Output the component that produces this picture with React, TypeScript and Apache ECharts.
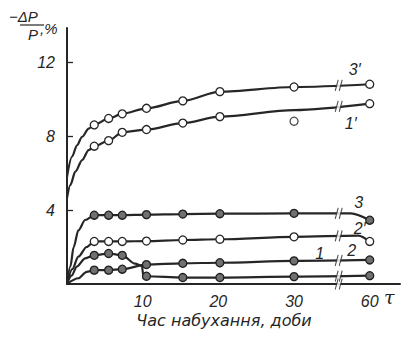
import React, { useEffect, useRef } from 'react';
import * as echarts from 'echarts';

// ---- data ----
const DAYS = [3.6, 5.5, 7.3, 10.5, 15.3, 20.2, 30, 60];
const X_TICKS = [10, 20, 30, 60];
const Y_TICKS = [4, 8, 12];
const BREAK_DAY = 35.9; // where the axis is broken
const POS_OF_60 = 40; // axis position used for day 60 after the break

const v3p = [8.6, 8.95, 9.2, 9.5, 9.9, 10.4, 10.65, 10.8];
const v1p = [7.45, 7.75, 8.2, 8.35, 8.7, 9.05, null, 9.75];
const v3 = [3.72, 3.72, 3.72, 3.75, 3.78, 3.8, 3.82, 3.45];
const v2p = [2.3, 2.3, 2.3, 2.32, 2.38, 2.42, 2.55, 2.3];
const v2 = [0.75, 0.75, 0.8, 1.05, 1.12, 1.15, 1.25, 1.3];
const v1 = [1.55, 1.65, 1.55, 0.42, 0.35, 0.35, 0.4, 0.45];

// unmarked points of the drawn curves [day, value]
const path3p = [[0, 5.8], [0.66, 6.88], [1.32, 7.5], [2.0, 7.96], [2.86, 8.4]];
const path1p = [[0, 4.65], [0.44, 5.35], [1.1, 6.07], [2.0, 6.7], [2.86, 7.24], [30, 9.4]];
const path3 = [[0, 0], [0.44, 0.94], [0.88, 2.0], [1.5, 2.9], [2.4, 3.46], [37.5, 3.82]];
const path2p = [[0, 0], [0.7, 0.8], [1.5, 1.48], [2.6, 2.0], [38.5, 2.62]];
const path2 = [[0, 0], [1.5, 0.31], [2.6, 0.66]];
const path1 = [[0, 0], [0.6, 0.45], [1.3, 0.94], [2.4, 1.39], [9.0, 1.1], [9.9, 0.98], [10.1, 0.4]];
const outlier1p = [[30, 8.8]];

const pos = (d: number) => (d === 60 ? POS_OF_60 : d);

const INK = '#262626';
const OPEN = { color: '#ffffff', borderColor: INK, borderWidth: 1.3 };
const FILLED = { color: '#707070', borderColor: '#1e1e1e', borderWidth: 1.3 };
const NUM_FONT = 'Liberation Sans';

function buildLine(vals: (number | null)[], extra: number[][], label: string, offset: number[]) {
  const pts: any[] = [];
  DAYS.forEach((d, i) => {
    if (vals[i] != null) pts.push({ value: [pos(d), vals[i]] });
  });
  extra.forEach(([d, v]) => pts.push({ value: [pos(d), v], symbol: 'none' }));
  pts.sort((a, b) => a.value[0] - b.value[0]);
  const last = pts[pts.length - 1];
  last.label = {
    show: true,
    formatter: label,
    position: 'inside',
    offset,
    fontFamily: NUM_FONT,
    fontStyle: 'italic',
    fontSize: 16,
    color: INK,
  };
  return pts;
}

function interp(pts: any[], x: number) {
  for (let i = 0; i < pts.length - 1; i++) {
    const [x0, y0] = pts[i].value;
    const [x1, y1] = pts[i + 1].value;
    if (x >= x0 && x <= x1) return y0 + ((y1 - y0) * (x - x0)) / (x1 - x0);
  }
  return 0;
}

export default function App() {
  const ref = useRef<HTMLDivElement>(null);
  useEffect(() => {
    if (!ref.current) return;
    const chart = echarts.init(ref.current, null, { renderer: 'svg' });

    const curves = [
      { name: "3'", data: buildLine(v3p, path3p, '3′', [-15, -15]), style: OPEN },
      { name: "1'", data: buildLine(v1p, path1p, '1′', [-19, 20]), style: OPEN },
      { name: '3', data: buildLine(v3, path3, '3', [-11, -18]), style: FILLED },
      { name: "2'", data: buildLine(v2p, path2p, '2′', [-10, -13]), style: OPEN },
      { name: '2', data: buildLine(v2, path2, '2', [-18, -9]), style: FILLED },
      { name: '1', data: buildLine(v1, path1, '1', [-50, -22]), style: FILLED },
    ];

    const breakPts = [[BREAK_DAY, 0], ...curves.map((c) => [BREAK_DAY, interp(c.data, BREAK_DAY)])];

    const series: any[] = curves.map((c) => ({
      type: 'line',
      name: c.name,
      data: c.data,
      smooth: 0.3,
      smoothMonotone: 'x',
      symbol: 'circle',
      symbolSize: 8,
      showAllSymbol: true,
      lineStyle: { color: INK, width: 2.2 },
      itemStyle: c.style,
      z: 3,
    }));
    series.push({
      type: 'scatter',
      data: outlier1p,
      symbol: 'circle',
      symbolSize: 8,
      itemStyle: OPEN,
      z: 4,
    });
    series.push({
      type: 'scatter',
      data: breakPts,
      symbol: 'path://M0,10 L3,0 L7,0 L4,10 Z',
      symbolSize: [7, 11],
      itemStyle: { color: '#ffffff', borderWidth: 0 },
      silent: true,
      z: 5,
    });
    series.push({
      type: 'scatter',
      data: breakPts,
      symbol: 'path://M0,10 L3,0 M4,10 L7,0',
      symbolSize: [7, 11],
      itemStyle: { color: 'none', borderColor: INK, borderWidth: 1.3 },
      silent: true,
      z: 6,
    });

    chart.setOption({
      animation: false,
      backgroundColor: '#ffffff',
      grid: { left: 67, right: 12, top: 28, bottom: 58 },
      xAxis: {
        type: 'value',
        min: 0,
        max: 44,
        axisLine: { lineStyle: { color: INK, width: 2 } },
        axisTick: { show: false },
        splitLine: { show: false },
        axisLabel: {
          customValues: X_TICKS.map(pos),
          formatter: (v: number) => (v === POS_OF_60 ? '60' : String(v)),
          fontFamily: NUM_FONT,
          fontStyle: 'italic',
          fontSize: 16,
          color: INK,
          margin: 9,
        },
      },
      yAxis: {
        type: 'value',
        min: 0,
        max: 13.84,
        axisLine: { show: true, lineStyle: { color: INK, width: 2 } },
        axisTick: { show: true, inside: true, length: 6, customValues: Y_TICKS, lineStyle: { color: INK, width: 1.3 } },
        splitLine: { show: false },
        axisLabel: {
          customValues: Y_TICKS,
          fontFamily: NUM_FONT,
          fontStyle: 'italic',
          fontSize: 16,
          color: INK,
          margin: 12,
        },
      },
      graphic: [
        { type: 'text', left: 9, top: 9, style: { text: '−ΔP', fontFamily: NUM_FONT, fontStyle: 'italic', fontSize: 15, fill: INK } },
        { type: 'line', shape: { x1: 20, y1: 25, x2: 44, y2: 25 }, style: { stroke: INK, lineWidth: 1.2 } },
        { type: 'text', left: 28, top: 27, style: { text: 'P', fontFamily: NUM_FONT, fontStyle: 'italic', fontSize: 15, fill: INK } },
        { type: 'text', left: 40, top: 21, style: { text: ',%', fontFamily: NUM_FONT, fontStyle: 'italic', fontSize: 15, fill: INK } },
        { type: 'text', left: 384, top: 287, style: { text: 'τ', fontFamily: 'DejaVu Serif', fontStyle: 'italic', fontSize: 19, fill: INK } },
        {
          type: 'text',
          x: 224,
          y: 320,
          style: {
            text: 'Час набухання, доби',
            fontFamily: 'DejaVu Sans',
            fontStyle: 'italic',
            fontSize: 16,
            fill: INK,
            align: 'center',
            verticalAlign: 'middle',
          },
        },
      ],
      series,
    });
    return () => chart.dispose();
  }, []);
  return <div ref={ref} style={{ position: 'fixed', left: 0, top: 0, width: 412, height: 342 }} />;
}
